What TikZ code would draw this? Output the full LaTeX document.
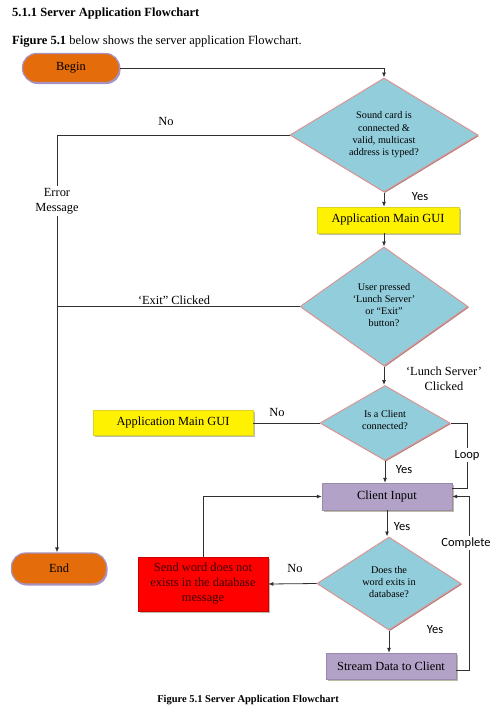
\documentclass[tikz,border=0pt]{standalone}
\usepackage{fontspec}
\setmainfont{Liberation Serif}
\newfontfamily\calib{Carlito}
\usetikzlibrary{shapes.geometric,arrows.meta,shadows}
\definecolor{orng}{HTML}{E46C0A}
\definecolor{pillb}{HTML}{A593C2}
\definecolor{aqua}{HTML}{92CDDC}
\definecolor{dborder}{HTML}{D99694}
\definecolor{dshad}{HTML}{B07878}
\definecolor{lilac}{HTML}{B3A2C7}
\definecolor{shad}{HTML}{BDBDA5}
\definecolor{linec}{HTML}{303030}
\definecolor{redtxt}{HTML}{3A0000}
\begin{document}
\begin{tikzpicture}[x=1pt,y=-1pt,
  pill/.style={rectangle, rounded corners=14pt, fill=orng, draw=pillb, line width=1.2pt,
    font=\fontsize{12.4}{14}\selectfont,
    drop shadow={shadow xshift=1pt, shadow yshift=-1.5pt, fill=pillb, opacity=1}},
  dia/.style={diamond, fill=aqua, draw=dborder, line width=1pt, inner sep=0pt,
    drop shadow={shadow xshift=1pt, shadow yshift=-1pt, fill=dshad, opacity=1}},
  dtext/.style={align=center, font=\fontsize{10.2}{12.3}\selectfont, inner sep=0pt},
  box/.style={rectangle, inner sep=0pt, font=\fontsize{12.4}{15}\selectfont, align=center,
    drop shadow={shadow xshift=1.5pt, shadow yshift=-1.5pt, fill=shad, opacity=1}},
  gui/.style={box, fill=yellow, draw=yellow!85!black, line width=0.4pt},
  lil/.style={box, fill=lilac, draw=lilac!85!black, line width=0.4pt},
  redbox/.style={box, fill=red, draw=red!80!black, line width=0.6pt, text=redtxt},
  conn/.style={draw=linec, line width=0.8pt},
  arr/.style={conn, -{Latex[length=5pt,width=4pt]}},
  lbl/.style={font=\fontsize{12.4}{15}\selectfont, align=center, inner sep=1pt},
  slbl/.style={font=\calib\fontsize{12.5}{15}\selectfont, align=center, inner sep=1pt},
  wlbl/.style={fill=white, inner sep=2pt}
]
\useasboundingbox (0,0) rectangle (500,720);
\fill[white] (0,0) rectangle (500,720);

% header texts
\node[anchor=west, inner sep=0pt, font=\fontsize{12.5}{15}\selectfont\bfseries] (title) at (12,13) {5.1.1 Server Application Flowchart};
\node[anchor=west, inner sep=0pt, font=\fontsize{12.5}{15}\selectfont] (intro) at (12,42) {\textbf{Figure 5.1} below shows the server application Flowchart.};

% nodes
\node[pill, minimum width=97pt, minimum height=29pt] (begin) at (71,68) {Begin};
\node[dia, minimum width=188pt, minimum height=114pt] (d1) at (384,135) {};
\node[dtext] (d1t) at (384,135) {Sound card is\\connected \&\\valid, multicast\\address is typed?};
\node[gui, minimum width=142pt, minimum height=26pt] (gui1) at (388,220) {Application Main GUI};
\node[dia, minimum width=168pt, minimum height=119pt] (d2) at (384,306.5) {};
\node[dtext] (d2t) at (384,305) {User pressed\\‘Lunch Server’\\or “Exit”\\button?};
\node[dia, minimum width=130pt, minimum height=75pt] (d3) at (385,423) {};
\node[dtext] (d3t) at (385,420) {Is a Client\\connected?};
\node[gui, minimum width=160pt, minimum height=25pt] (gui2) at (173,423) {Application Main GUI};
\node[lil, minimum width=130pt, minimum height=27pt] (ci) at (387,496.5) {Client Input};
\node[dia, minimum width=144pt, minimum height=93pt] (d4) at (389,583.5) {};
\node[dtext] (d4t) at (389,582) {Does the\\word exits in\\database?};
\node[redbox, minimum width=130pt, minimum height=54pt] (red) at (203,584) {Send word does not\\exists in the database\\message};
\node[lil, minimum width=130pt, minimum height=26pt] (stream) at (391,666) {Stream Data to Client};
\node[pill, minimum width=95pt, minimum height=31pt] (endn) at (59,568.5) {End};

\coordinate (lx) at (57,0);
\coordinate (loopx) at (467,488);
\coordinate (compx) at (469,0);

% connectors
\draw[arr] (begin.east) -| (d1.north);
\draw[arr] (d1.west) -| (lx |- endn.north);
\draw[conn] (d2.west) -- (d2.west -| lx);
\draw[arr] (d1.south) -- (d1.south |- gui1.north);
\draw[arr] (gui1.south -| d2.north) -- (d2.north);
\draw[arr] (d2.south) -- (d2.south |- d3.north);
\draw[conn] (d3.west) -- (d3.west -| gui2.east);
\draw[conn] (d3.east) -| (loopx) -- (loopx -| ci.east);
\draw[arr] (d3.south) -- (d3.south |- ci.north);
\draw[arr] (ci.south) -- (ci.south |- d4.north);
\draw[arr] (d4.west) -- (red.east);
\draw[arr] (red.north) |- (ci.west);
\draw[arr] (d4.south) -- (d4.south |- stream.north);
\draw[arr] ([yshift=-4pt]stream.east) -- ([yshift=-4pt]stream.east -| compx) |- (ci.east);

% labels
\node[lbl] (no1) at (166,121) {No};
\node[lbl, wlbl] (err) at (57,201) {Error\\Message};
\node[slbl] (yes1) at (420,197) {Yes};
\node[lbl] (exitl) at (174,300) {‘Exit” Clicked};
\node[lbl] (lunchl) at (444,379) {‘Lunch Server’\\Clicked};
\node[lbl] (no2) at (277,412) {No};
\node[slbl, wlbl] (loopl) at (467,455) {Loop};
\node[slbl] (yes2) at (404,470) {Yes};
\node[slbl] (yes3) at (402,527) {Yes};
\node[slbl, wlbl] (compl) at (466,543) {Complete};
\node[lbl] (no3) at (295,568) {No};
\node[slbl] (yes4) at (435,630) {Yes};

% caption
\node[inner sep=0pt, font=\fontsize{10.5}{12}\selectfont\bfseries] (cap) at (248,700) {Figure 5.1 Server Application Flowchart};
\end{tikzpicture}
\end{document}
